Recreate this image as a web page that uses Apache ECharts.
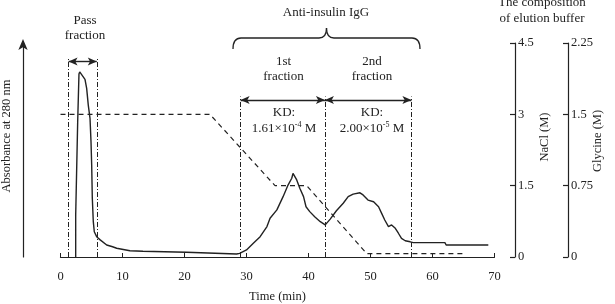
<!DOCTYPE html>
<html>
<head>
<meta charset="utf-8">
<script src="https://cdn.jsdelivr.net/npm/echarts@6/dist/echarts.min.js"></script>
<style>
  html, body { margin: 0; padding: 0; background: #fff; }
  #chart { width: 615px; height: 304px; }
</style>
</head>
<body>
<div id="chart"></div>
<script>
// Absorbance at 280 nm (arbitrary units, 0-100)
const absTime = [2.45, 2.45, 2.77, 2.77, 2.98, 3.1, 3.42, 3.95, 4.22, 4.48, 4.76, 4.92, 5.03, 5.13, 5.29, 5.45, 5.83, 6.4, 7.45, 8.4, 9.06, 11.2, 13.3, 13.4, 20.3, 20.4, 28.4, 28.9, 30.0, 31.1, 32.2, 33.3, 33.8, 34.9, 35.9, 36.7, 37.3, 37.5, 37.8, 38.1, 38.6, 39.2, 39.6, 40.2, 41.0, 41.9, 42.7, 43.5, 44.5, 45.6, 46.4, 47.2, 48.3, 48.8, 49.6, 50.5, 51.3, 51.8, 52.3, 52.9, 53.4, 54.0, 54.5, 55.0, 55.6, 56.4, 56.9, 62.0, 62.2, 69.0];
const absValue = [0, 19.6, 19.6, 63, 85.5, 86.5, 86.1, 83, 78.8, 71, 64.8, 53.9, 43, 27.6, 16.5, 11.8, 9.5, 8, 5.6, 4.8, 4.1, 2.9, 2.7, 2.2, 2.2, 1.7, 1.4, 1.7, 3.3, 6.4, 9.5, 14.2, 18.1, 22.0, 28.2, 33.6, 36.8, 39.1, 39.1, 36.0, 32.1, 28.2, 23.5, 21.2, 18.8, 16.5, 15.0, 17.7, 21.6, 25.1, 28.2, 29.4, 30.0, 29.0, 26.6, 25.8, 23.5, 20.4, 17.3, 14.2, 15.0, 13.4, 11.1, 8.7, 7.6, 7.1, 6.7, 6.7, 5.6, 5.6];

// Elution buffer composition (NaCl, M)
const bufTime = [0, 24.1, 34.6, 39.7, 49.4, 65.0];
const bufNaCl = [3, 3, 1.5, 1.5, 0.07, 0.07];

// fraction boundaries (min)
const passBounds = [1.3, 5.85];
const iggBounds = [29.05, 42.65, 56.6];
const passTop = 93, passArrow = 91.3;
const iggTop = 75, iggArrow = 73.4;

const xTicks = [0, 70, 10];
const naclTicks = [0, 4.5, 1.5];
const glyTicks = [0, 2.25, 0.75];

const serif = 'Liberation Serif';
const ink = '#222';
const dashDot = [5, 2, 1, 2];

const vLines = [];
passBounds.forEach(t => vLines.push([{ coord: [t, 0] }, { coord: [t, passTop] }]));
iggBounds.forEach(t => vLines.push([{ coord: [t, 0] }, { coord: [t, iggTop] }]));

const arrows = [
  [{ coord: [passBounds[0], passArrow] }, { coord: [passBounds[1], passArrow] }],
  [{ coord: [iggBounds[0], iggArrow] }, { coord: [iggBounds[1], iggArrow] }],
  [{ coord: [iggBounds[1], iggArrow] }, { coord: [iggBounds[2], iggArrow] }]
];

const chart = echarts.init(document.getElementById('chart'), null, { renderer: 'canvas' });

const txt = (x, y, text, extra) => ({
  type: 'text', x: x, y: y, silent: true,
  style: Object.assign({ text: text, font: '13px "' + serif + '"', fill: ink, align: 'center', verticalAlign: 'middle', lineHeight: 15.5 }, extra || {})
});
const vtxt = (x, y, text) => Object.assign(txt(x, y, text, { font: '12.5px "' + serif + '"' }), { rotation: Math.PI / 2 });
const braceStyle = { fill: null, stroke: ink, lineWidth: 1.3 };
const seg = (x1, y1, x2, y2) => ({ type: 'line', silent: true, shape: { x1, y1, x2, y2 }, style: braceStyle });
const curve = (x1, y1, cpx1, cpy1, x2, y2) => ({ type: 'bezierCurve', silent: true, shape: { x1, y1, cpx1, cpy1, x2, y2 }, style: braceStyle });

chart.setOption({
  animation: false,
  textStyle: { fontFamily: serif, color: ink },
  grid: { left: 60.5, right: 120.5, top: 43, bottom: 47, containLabel: false, outerBoundsMode: 'none' },
  xAxis: {
    type: 'value', min: xTicks[0], max: xTicks[1], interval: xTicks[2],
    name: 'Time (min)', nameLocation: 'middle', nameGap: 33,
    nameTextStyle: { fontSize: 12.5, fontFamily: serif, color: ink },
    axisLine: { lineStyle: { color: ink, width: 1.2 } },
    axisTick: { inside: true, length: 4, lineStyle: { color: ink } },
    axisLabel: { fontSize: 12.5, color: ink, margin: 13, fontFamily: serif },
    splitLine: { show: false }
  },
  yAxis: [
    {
      type: 'value', min: 0, max: 100, position: 'left', offset: 37.5,
      name: 'Absorbance at 280 nm', nameLocation: 'middle', nameGap: 10, nameRotate: 90,
      nameTextStyle: { fontSize: 12.5, fontFamily: serif, color: ink, padding: [0, 0, 0, 28] },
      axisLine: { show: true, onZero: false, symbol: ['none', 'arrow'], symbolSize: [7, 11], symbolOffset: [0, 4], lineStyle: { color: ink, width: 1.2 } },
      axisTick: { show: false }, axisLabel: { show: false }, splitLine: { show: false }
    },
    {
      type: 'value', min: naclTicks[0], max: naclTicks[1], interval: naclTicks[2], position: 'right', offset: 20.5,
      axisLine: { show: true, onZero: false, lineStyle: { color: ink, width: 1.2 } },
      axisTick: { inside: true, length: 5, lineStyle: { color: ink, width: 1.2 } },
      axisLabel: { fontSize: 12.5, color: ink, margin: 3, fontFamily: serif },
      splitLine: { show: false }
    },
    {
      type: 'value', min: glyTicks[0], max: glyTicks[1], interval: glyTicks[2], position: 'right', offset: 73.5,
      axisLine: { show: true, onZero: false, lineStyle: { color: ink, width: 1.2 } },
      axisTick: { inside: true, length: 5, lineStyle: { color: ink, width: 1.2 } },
      axisLabel: { fontSize: 12.5, color: ink, margin: 3, fontFamily: serif },
      splitLine: { show: false }
    }
  ],
  series: [
    {
      type: 'line', yAxisIndex: 0, showSymbol: false, clip: false,
      data: absTime.map((t, i) => [t, absValue[i]]),
      lineStyle: { color: ink, width: 1.4 },
      markLine: {
        silent: true, symbol: 'none', label: { show: false },
        lineStyle: { color: ink, width: 1, type: dashDot },
        data: vLines
      }
    },
    {
      type: 'line', yAxisIndex: 0, data: [], showSymbol: false,
      markLine: {
        silent: true, symbol: ['arrow', 'arrow'], symbolSize: [6, 9], label: { show: false },
        lineStyle: { color: ink, width: 1.4, type: 'solid' },
        data: arrows
      }
    },
    {
      type: 'line', yAxisIndex: 1, showSymbol: false,
      data: bufTime.map((t, i) => [t, bufNaCl[i]]),
      lineStyle: { color: ink, width: 1.2, type: [5, 4] }
    }
  ],
  graphic: [
    txt(85, 20.5, 'Pass'),
    txt(85, 35.5, 'fraction'),
    txt(326, 13, 'Anti-insulin IgG'),
    curve(233, 49, 233, 38, 241, 38),
    seg(241, 38, 319, 38),
    curve(319, 38, 326.5, 38, 326.5, 28),
    curve(326.5, 28, 326.5, 38, 334, 38),
    seg(334, 38, 412, 38),
    curve(412, 38, 420, 38, 420, 49),
    txt(283.5, 61.5, '1st'),
    txt(283.5, 77, 'fraction'),
    txt(372, 61.5, '2nd'),
    txt(372, 77, 'fraction'),
    txt(284, 112.5, 'KD:'),
    txt(284, 128.5, '1.61×10{sup|-4} M', { rich: { sup: { fontSize: 8, fontFamily: serif, verticalAlign: 'top', lineHeight: 15.5 } } }),
    txt(372, 112.5, 'KD:'),
    txt(372, 128.5, '2.00×10{sup|-5} M', { rich: { sup: { fontSize: 8, fontFamily: serif, verticalAlign: 'top', lineHeight: 15.5 } } }),
    vtxt(545, 137, 'NaCl (M)'),
    vtxt(598, 141, 'Glycine (M)'),
    txt(542, 3, 'The composition'),
    txt(542, 18.5, 'of elution buffer')
  ]
});
</script>
</body>
</html>
